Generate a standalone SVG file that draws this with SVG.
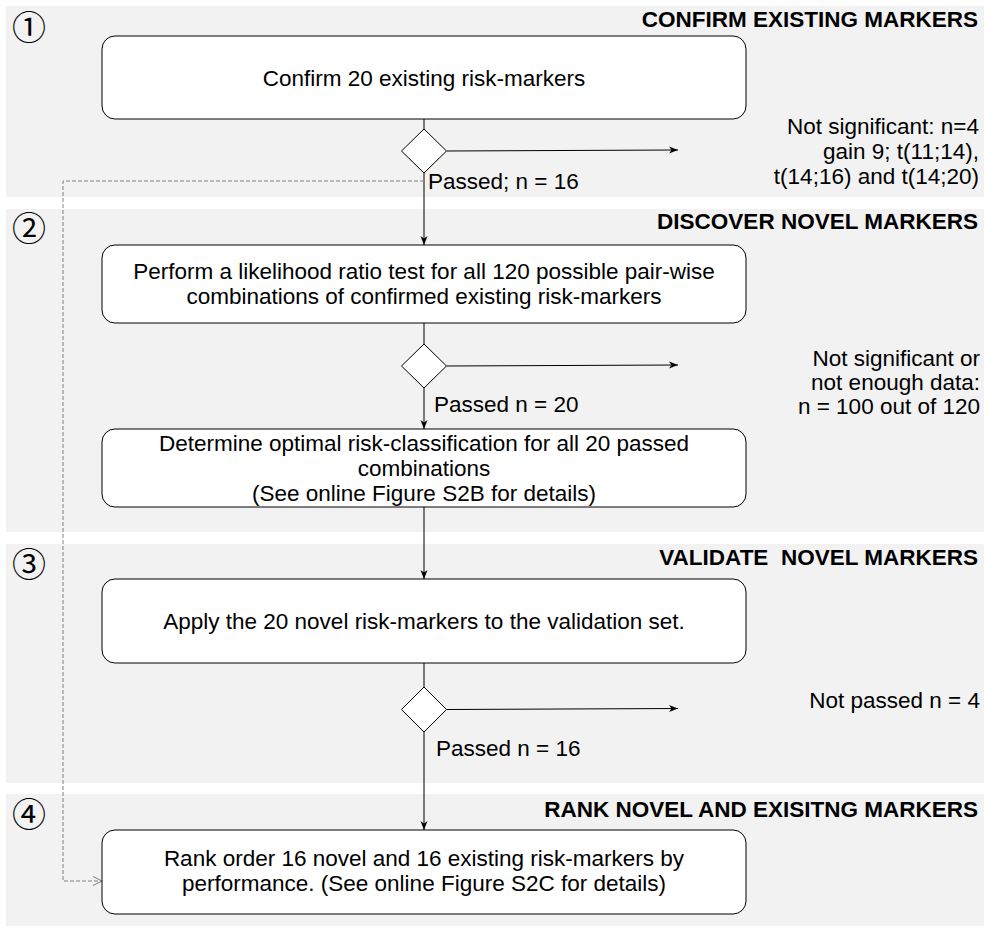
<svg xmlns="http://www.w3.org/2000/svg" width="990" height="932" viewBox="0 0 990 932">
<style>
.panel{fill:#f2f2f2;stroke:none}
.box{fill:#fff;stroke:#000;stroke-width:1}
.dia{fill:#fff;stroke:#000;stroke-width:1}
.t{font-family:"Liberation Sans",Arial,sans-serif;font-size:22.5px;fill:#000}
.c{text-anchor:middle}
.r{text-anchor:end}
.h{font-family:"Liberation Sans",Arial,sans-serif;font-size:22.5px;font-weight:bold;fill:#000;text-anchor:end}
.num{font-family:"Noto Sans CJK JP","Noto Sans CJK SC",sans-serif;font-size:34px;fill:#000;text-anchor:middle}
.ln{fill:none;stroke:#000;stroke-width:1}
.dash{fill:none;stroke:#808080;stroke-width:1;stroke-dasharray:4 2}
</style>
<defs>
<marker id="arr" markerUnits="userSpaceOnUse" markerWidth="10" markerHeight="8" refX="9" refY="4" orient="auto">
<path d="M0,0.5 L9,4 L0,7.5 L2.5,4 z" fill="#000"/>
</marker>
<marker id="open" markerUnits="userSpaceOnUse" markerWidth="12" markerHeight="12" refX="10" refY="6" orient="auto">
<path d="M1,1.5 L10,6 L1,10.5" fill="none" stroke="#808080" stroke-width="1"/>
</marker>
</defs>
<g id="panels">
<rect class="panel" x="6" y="6" width="978" height="191"/>
<rect class="panel" x="6" y="209" width="978" height="323"/>
<rect class="panel" x="6" y="544" width="978" height="239"/>
<rect class="panel" x="6" y="794" width="978" height="132"/>
<text class="num" x="29" y="40">①</text>
<text class="num" x="29" y="241">②</text>
<text class="num" x="29" y="577">③</text>
<text class="num" x="29" y="827">④</text>
<text class="h" x="978" y="27">CONFIRM EXISTING MARKERS</text>
<text class="h" x="978" y="229">DISCOVER NOVEL MARKERS</text>
<text class="h" x="978" y="565" xml:space="preserve">VALIDATE  NOVEL MARKERS</text>
<text class="h" x="978" y="817">RANK NOVEL AND EXISITNG MARKERS</text>
</g>
<g id="connectors">
<path class="ln" d="M424,119 V129"/>
<path class="ln" d="M424,173 V245" marker-end="url(#arr)"/>
<path class="ln" d="M446.5,151 L678,150" marker-end="url(#arr)"/>
<path class="ln" d="M424,323 V344"/>
<path class="ln" d="M424,388 V429" marker-end="url(#arr)"/>
<path class="ln" d="M446.5,366 L678,365" marker-end="url(#arr)"/>
<path class="ln" d="M424,507 V579" marker-end="url(#arr)"/>
<path class="ln" d="M424,663 V687"/>
<path class="ln" d="M446.5,709.5 L678,708.5" marker-end="url(#arr)"/>
<path class="ln" d="M424,732 V830" marker-end="url(#arr)"/>
<path class="dash" d="M424,181 H63 V881 H102" marker-end="url(#open)"/>
<text class="t" x="428" y="189">Passed; n = 16</text>
<text class="t" x="434" y="412">Passed n = 20</text>
<text class="t" x="436" y="756">Passed n = 16</text>
<text class="t r" x="979" y="134">Not significant: n=4</text>
<text class="t r" x="979" y="159">gain 9; t(11;14),</text>
<text class="t r" x="979" y="184">t(14;16) and t(14;20)</text>
<text class="t r" x="980" y="366">Not significant or</text>
<text class="t r" x="980" y="390">not enough data:</text>
<text class="t r" x="980" y="414">n = 100 out of 120</text>
<text class="t r" x="980" y="708">Not passed n = 4</text>
</g>
<g id="n1">
<rect class="box" x="102" y="36" width="644" height="83" rx="13"/>
<text class="t c" x="424" y="86">Confirm 20 existing risk-markers</text>
</g>
<g id="d1"><path class="dia" d="M424,129 L446.5,151 L424,173 L401.5,151 z"/></g>
<g id="n2">
<rect class="box" x="102" y="245" width="644" height="78" rx="13"/>
<text class="t c" x="424" y="279">Perform a likelihood ratio test for all 120 possible pair-wise</text>
<text class="t c" x="424" y="304">combinations of confirmed existing risk-markers</text>
</g>
<g id="d2"><path class="dia" d="M424,344 L446.5,366 L424,388 L401.5,366 z"/></g>
<g id="n3">
<rect class="box" x="102" y="429" width="644" height="78" rx="13"/>
<text class="t c" x="424" y="451">Determine optimal risk-classification for all 20 passed</text>
<text class="t c" x="424" y="476">combinations</text>
<text class="t c" x="424" y="501">(See online Figure S2B for details)</text>
</g>
<g id="n4">
<rect class="box" x="102" y="579" width="644" height="84" rx="13"/>
<text class="t c" x="424" y="629">Apply the 20 novel risk-markers to the validation set.</text>
</g>
<g id="d3"><path class="dia" d="M424,687 L446.5,709.5 L424,732 L401.5,709.5 z"/></g>
<g id="n5">
<rect class="box" x="102" y="830" width="644" height="84" rx="13"/>
<text class="t c" x="424" y="866">Rank order 16 novel and 16 existing risk-markers by</text>
<text class="t c" x="424" y="891">performance. (See online Figure S2C for details)</text>
</g>
</svg>
